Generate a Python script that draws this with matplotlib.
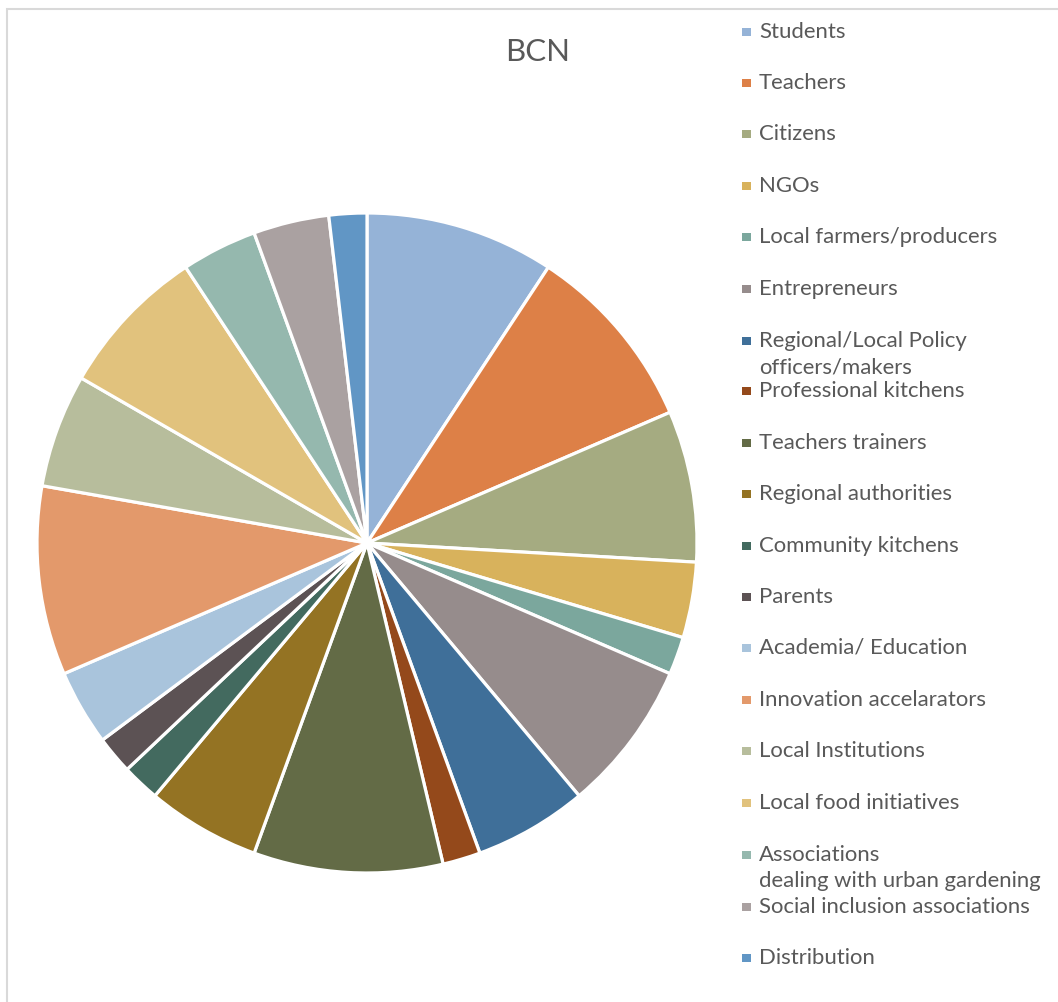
import matplotlib
matplotlib.use("Agg")
import matplotlib.pyplot as plt
from matplotlib.patches import Rectangle

categories = ["Students", "Teachers", "Citizens", "NGOs", "Local farmers/producers",
              "Entrepreneurs", "Regional/Local Policy\nofficers/makers", "Professional kitchens",
              "Teachers trainers", "Regional authorities", "Community kitchens", "Parents",
              "Academia/ Education", "Innovation accelarators", "Local Institutions",
              "Local food initiatives", "Associations\ndealing with urban gardening",
              "Social inclusion associations", "Distribution"]
values = [5, 5, 4, 2, 1, 4, 3, 1, 5, 3, 1, 1, 2, 5, 3, 4, 2, 2, 1]
colors = ["#95B3D7", "#DD8047", "#A5AB81", "#D8B25C", "#7BA79D", "#968C8C", "#3F6F99",
          "#94491B", "#636B46", "#947323", "#436A5F", "#5C5254", "#A9C4DC", "#E3996B",
          "#B7BD9C", "#E1C27D", "#95B8AE", "#AAA1A1", "#6196C5"]
title = "BCN"

W, H = 1058, 1002
fig = plt.figure(figsize=(W / 100, H / 100), dpi=100)
fig.patch.set_facecolor("white")

# outer border
fig.patches.append(Rectangle((7 / W, -0.01), 1.1, 1 - 8.5 / H + 0.01, transform=fig.transFigure,
                             fill=False, edgecolor="#D9D9D9", linewidth=1.5))

cx, cy, r = 367, 543, 330
ax = fig.add_axes([(cx - r) / W, (H - cy - r) / H, 2 * r / W, 2 * r / H])
ax.pie(values, colors=colors, startangle=90, counterclock=False, radius=1,
       wedgeprops=dict(edgecolor="white", linewidth=2.3))
ax.set_xlim(-1, 1)
ax.set_ylim(-1, 1)
ax.set_aspect("equal")
ax.axis("off")

fig.text(538 / W, 1 - 52 / H, title, ha="center", va="center", fontsize=22.5,
         color="#595959", family="Lato")

row_y = [32, 83, 134, 186, 237, 289, 341, 391, 443, 494, 546, 597, 648, 700, 751, 803, 855, 907, 958]
for lab, col, y in zip(categories, colors, row_y):
    fig.patches.append(Rectangle((742 / W, 1 - (y + 4) / H), 8.5 / W, 8.5 / H,
                                 transform=fig.transFigure, facecolor=col, edgecolor="none"))
    for i, line in enumerate(lab.split("\n")):
        fig.text(759 / W, 1 - (y + i * 26) / H, line, ha="left", va="center",
                 fontsize=15.9, color="#595959", family="Lato")

fig.savefig("out.png", dpi=100, facecolor="white")
